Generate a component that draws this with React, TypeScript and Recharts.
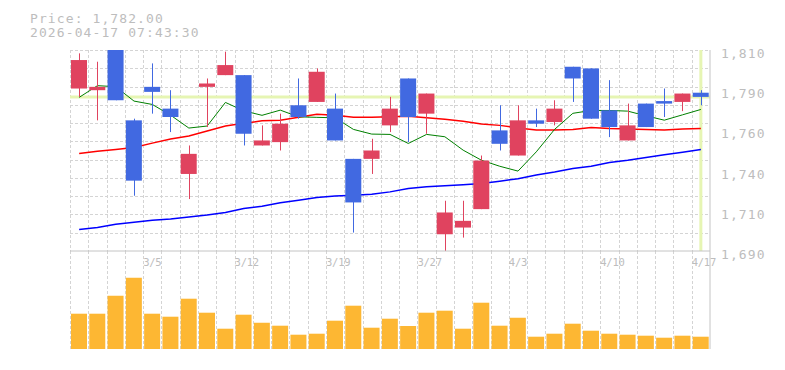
import { Bar, BarChart, CartesianGrid, ComposedChart, Line, ReferenceLine, XAxis, YAxis } from 'recharts'

const FONT = '"DejaVu Sans Mono", "Liberation Mono", monospace'
const TEXT = '#bdbdbd'
const GRID = '#d4d4d4'
const BORDER = '#c4c4c4'
const UP = '#e0435f'
const DOWN = '#4169e1'
const VOL = '#fdb733'
const HILITE = '#e6f5b3'

const dates = [
  '2/27', '3/2', '3/3', '3/4', '3/5', '3/6', '3/9', '3/10', '3/11', '3/12', '3/13', '3/16',
  '3/17', '3/18', '3/19', '3/23', '3/24', '3/25', '3/26', '3/27', '3/30', '3/31', '4/1', '4/2',
  '4/3', '4/6', '4/7', '4/8', '4/9', '4/10', '4/13', '4/14', '4/15', '4/16', '4/17',
]
const opens = [
  1787, 1786, 1812, 1768, 1788, 1775, 1736, 1788, 1795, 1795, 1753, 1755, 1777, 1779, 1775, 1745,
  1745, 1765, 1793, 1772, 1700, 1704, 1715, 1762, 1747, 1768, 1767, 1800, 1799, 1774, 1756, 1778,
  1779.5, 1779, 1784.5,
]
const highs = [
  1808, 1803, 1812, 1769, 1802, 1786, 1753, 1793, 1809, 1795, 1765, 1772, 1793, 1799, 1784, 1745,
  1757, 1782, 1793, 1784, 1720, 1720, 1747, 1777, 1777, 1775, 1780, 1800, 1799, 1792, 1778, 1778,
  1787, 1784, 1786,
]
const lows = [
  1782, 1768, 1780, 1723, 1772, 1761, 1721, 1764, 1795, 1753, 1753, 1750, 1769, 1779, 1756, 1701,
  1736, 1761, 1755, 1760, 1690, 1698, 1715, 1750, 1747, 1764, 1765, 1779, 1769, 1758, 1756, 1764,
  1770, 1773.5, 1777,
]
const closes = [
  1804, 1788, 1780, 1732, 1785, 1770, 1748, 1790, 1801, 1760, 1756, 1766, 1770, 1797, 1756, 1719,
  1750, 1775, 1770, 1784, 1713, 1708, 1744, 1754, 1768, 1766, 1775, 1793, 1769, 1764, 1765, 1764,
  1778, 1784, 1782,
]
const ma5 = [
  1781.7, 1788.7, 1788.1, 1779.5, 1777.5, 1771.1, 1763.4, 1764.6, 1778.7, 1773.7, 1771.0, 1774.1,
  1770.1, 1769.8, 1769.5, 1762.6, 1759.8, 1759.6, 1754.2, 1759.6, 1758.2, 1750.2, 1744.2, 1740.6,
  1737.7, 1749.2, 1762.6, 1772.2, 1773.9, 1773.9, 1773.5, 1770.7, 1768.1, 1771.3, 1774.5,
]
const ma25 = [
  1748.2, 1749.6, 1750.6, 1751.8, 1754.4, 1756.8, 1758.6, 1761.6, 1764.6, 1766.2, 1767.7, 1768.0,
  1769.8, 1771.6, 1771.1, 1769.8, 1769.8, 1770.1, 1770.5, 1769.5, 1768.6, 1767.5, 1765.8, 1765.0,
  1763.5, 1762.2, 1762.2, 1762.6, 1763.8, 1763.2, 1762.9, 1762.6, 1762.2, 1762.9, 1763.2,
]
const ma75 = [
  1702.8, 1704.0, 1706.0, 1707.2, 1708.4, 1709.1, 1710.3, 1711.5, 1713.0, 1715.4, 1716.7, 1718.8,
  1720.3, 1721.9, 1722.9, 1723.3, 1723.9, 1725.3, 1727.3, 1728.3, 1728.9, 1729.5, 1730.3, 1731.7,
  1733.1, 1735.4, 1737.2, 1739.3, 1740.6, 1742.9, 1744.2, 1745.8, 1747.4, 1749.0, 1750.6,
]
// thousand shares
const volumes = [
  353, 353, 533, 713, 353, 323, 503, 363, 203, 343, 263, 233, 143, 153, 283, 433, 213, 303, 230,
  363, 383, 203, 463, 233, 313, 123, 153, 253, 183, 153, 143, 133, 113, 133, 123,
]
const xTickLabels = ['3/5', '3/12', '3/19', '3/27', '4/3', '4/10', '4/17']
const priceTicks = [1690, 1714, 1738, 1762, 1786, 1810]
const lastPrice = 1782
const stamp = '2026-04-17 07:43:30'

// price panel box
const PLOT_LEFT = 70
const PLOT_TOP = 50
const PLOT_W = 640
const PLOT_H = 201
const GRID_ROWS = 11

const rows = dates.map((date, i) => ({
  date,
  range: [lows[i], highs[i]],
  open: opens[i],
  high: highs[i],
  low: lows[i],
  close: closes[i],
  ma5: ma5[i],
  ma25: ma25[i],
  ma75: ma75[i],
  volume: volumes[i],
}))

function Candle(props: any) {
  const { x, y, width, height, payload } = props
  if (x == null || !payload) return null
  const top = Math.min(y, y + height)
  const h = Math.abs(height)
  const k = h / (payload.high - payload.low)
  const at = (v: number) => top + (payload.high - v) * k
  const fill = payload.close >= payload.open ? UP : DOWN
  const bodyTop = at(Math.max(payload.open, payload.close))
  const bodyBottom = at(Math.min(payload.open, payload.close))
  const cx = Math.round(x + width / 2) + 0.5
  return (
    <g>
      <line x1={cx} x2={cx} y1={top} y2={top + h} stroke={fill} strokeWidth={1} />
      <rect x={x} y={bodyTop} width={width} height={Math.max(bodyBottom - bodyTop, 1)} fill={fill} />
    </g>
  )
}

function PriceTick({ x, y, payload }: any) {
  const label = (Math.round(payload.value / 10) * 10).toLocaleString('en-US')
  return (
    <text x={x + 11} y={y + 8} fill={TEXT} fontFamily={FONT} fontSize={13} letterSpacing={1.1}>
      {label}
    </text>
  )
}

function DateTick({ x, y, payload, width }: any) {
  if (!payload || !xTickLabels.includes(payload.value)) return <g />
  const half = (width || PLOT_W) / dates.length / 2
  return (
    <text x={x - half} y={y + 15} fill={TEXT} fontFamily={FONT} fontSize={10.5} letterSpacing={-0.25}>
      {payload.value}
    </text>
  )
}

// crisp dashed lines on the band edges
const bandLines = dates.map((_, i) => Math.round(PLOT_LEFT + (i * PLOT_W) / dates.length) + 0.5)
const rowLines = Array.from({ length: GRID_ROWS }, (_, i) => Math.round(PLOT_TOP + (i * PLOT_H) / GRID_ROWS) + 0.5)

export default function App() {
  return (
    <div style={{ position: 'absolute', left: 0, top: 0, width: 785, height: 370, background: '#fff' }}>
      <div style={{ position: 'absolute', left: 0, top: 251 }}>
        <BarChart width={785} height={119} data={rows} margin={{ top: 0, right: 0, bottom: 21, left: PLOT_LEFT }}>
          <CartesianGrid stroke={GRID} strokeDasharray="3 2" horizontal={false} verticalPoints={bandLines} />
          <XAxis dataKey="date" height={0} tick={false} tickLine={false} axisLine={{ stroke: BORDER }} />
          <YAxis orientation="right" width={75} domain={[0, 980]} tick={false} tickLine={false} axisLine={{ stroke: BORDER }} />
          <Bar dataKey="volume" fill={VOL} barSize={16} isAnimationActive={false} />
        </BarChart>
      </div>
      <div style={{ position: 'absolute', left: 0, top: 0 }}>
        <ComposedChart width={785} height={270} data={rows} margin={{ top: PLOT_TOP, right: 0, bottom: 0, left: PLOT_LEFT }}>
          <CartesianGrid stroke={GRID} strokeDasharray="3 2" horizontalPoints={rowLines} verticalPoints={bandLines} />
          <XAxis
            dataKey="date"
            height={19}
            interval={0}
            tickSize={0}
            tickMargin={0}
            tickLine={false}
            axisLine={{ stroke: BORDER }}
            tick={<DateTick />}
          />
          <YAxis
            orientation="right"
            width={75}
            domain={[1690, 1810]}
            allowDataOverflow
            ticks={priceTicks}
            interval={0}
            tickSize={0}
            tickMargin={0}
            tickLine={false}
            axisLine={{ stroke: BORDER }}
            tick={<PriceTick />}
          />
          <ReferenceLine y={lastPrice} stroke={HILITE} strokeWidth={3} zIndex={50} />
          <ReferenceLine x={dates[dates.length - 1]} stroke={HILITE} strokeWidth={3} zIndex={50} />
          <Line dataKey="ma75" stroke="#0000ff" strokeWidth={1.5} dot={false} isAnimationActive={false} zIndex={200} />
          <Line dataKey="ma25" stroke="#ff0000" strokeWidth={1.5} dot={false} isAnimationActive={false} zIndex={200} />
          <Line dataKey="ma5" stroke="#008000" strokeWidth={1} dot={false} isAnimationActive={false} zIndex={200} />
          <Bar dataKey="range" barSize={16} shape={<Candle />} isAnimationActive={false} zIndex={450} />
        </ComposedChart>
      </div>
      <svg width={785} height={50} style={{ position: 'absolute', left: 0, top: 0 }}>
        <text x={30} y={22.7} fill={TEXT} fontFamily={FONT} fontSize={13} letterSpacing={1.1}>
          {`Price: ${lastPrice.toLocaleString('en-US', { minimumFractionDigits: 2 })}`}
        </text>
        <text x={30} y={37.3} fill={TEXT} fontFamily={FONT} fontSize={13} letterSpacing={1.1}>
          {stamp}
        </text>
      </svg>
    </div>
  )
}
